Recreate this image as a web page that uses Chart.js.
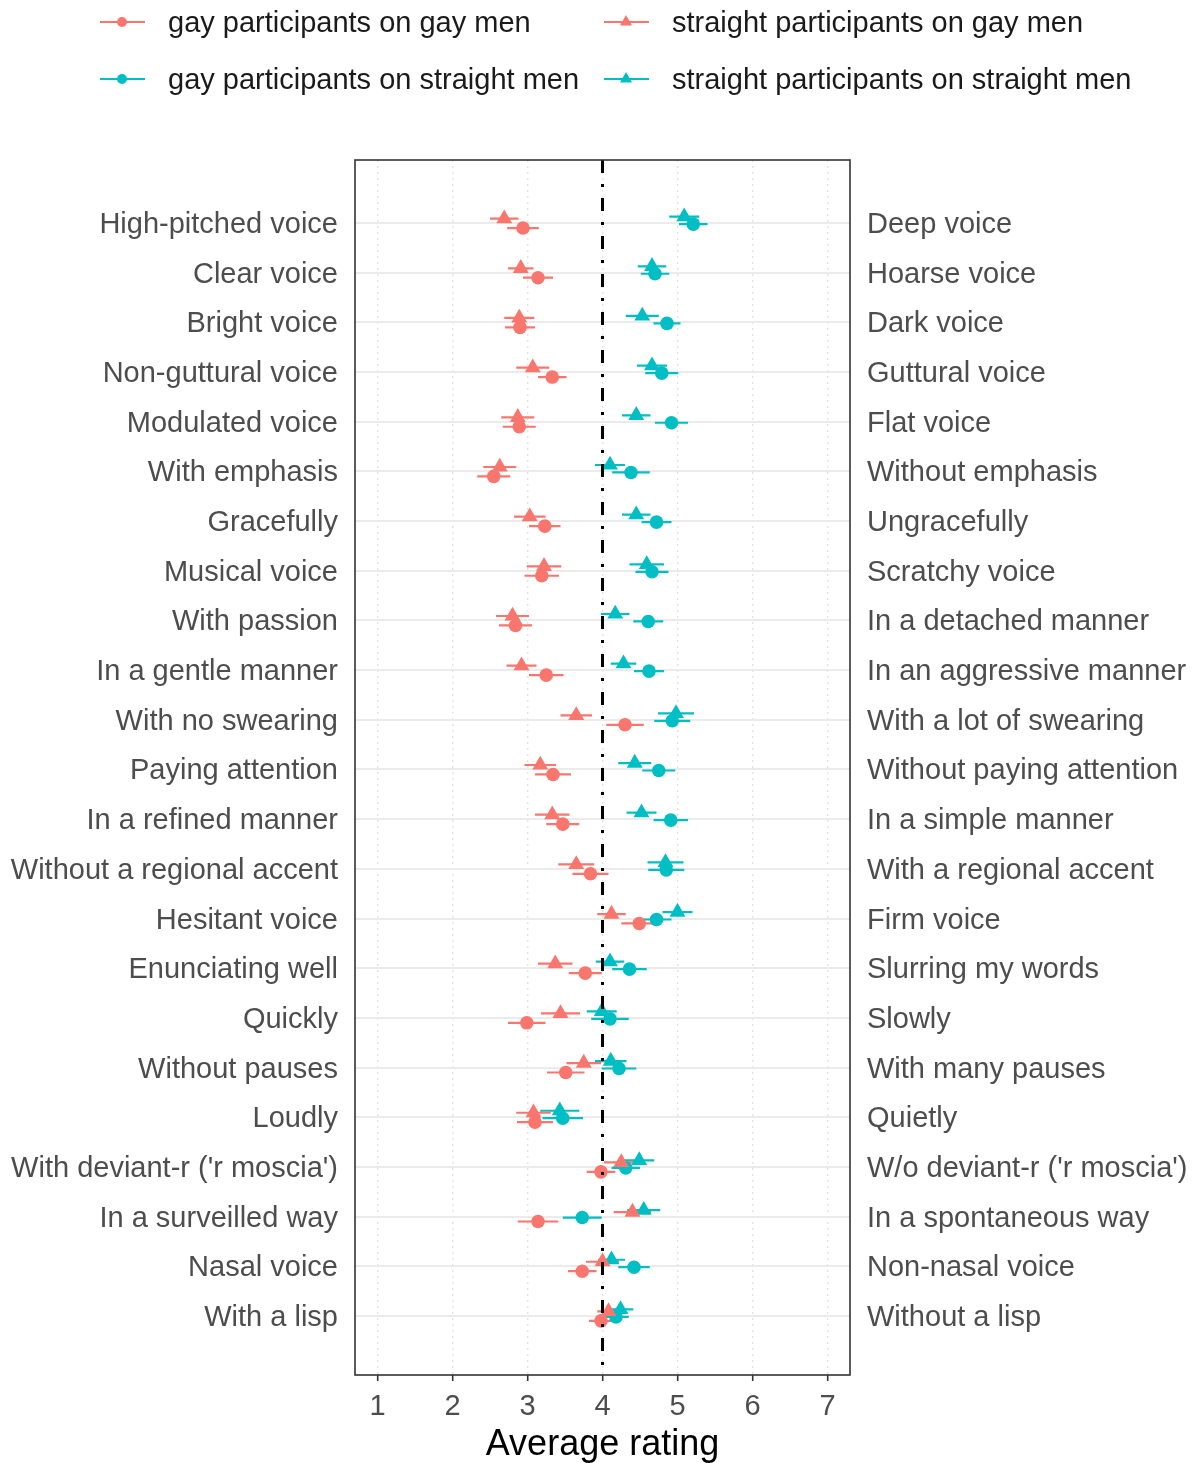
<!DOCTYPE html>
<html><head><meta charset="utf-8">
<script src="https://cdn.jsdelivr.net/npm/chart.js@4.4.1/dist/chart.umd.min.js"></script>
<style>html,body{margin:0;padding:0;background:#fff;} #wrap{width:1194px;height:1463px;}</style>
</head><body><div id="wrap"><canvas id="c" width="1194" height="1463"></canvas></div>
<script>
const leftLabels = ["High-pitched voice","Clear voice","Bright voice","Non-guttural voice","Modulated voice","With emphasis","Gracefully","Musical voice","With passion","In a gentle manner","With no swearing","Paying attention","In a refined manner","Without a regional accent","Hesitant voice","Enunciating well","Quickly","Without pauses","Loudly","With deviant-r ('r moscia')","In a surveilled way","Nasal voice","With a lisp"];
const rightLabels = ["Deep voice","Hoarse voice","Dark voice","Guttural voice","Flat voice","Without emphasis","Ungracefully","Scratchy voice","In a detached manner","In an aggressive manner","With a lot of swearing","Without paying attention","In a simple manner","With a regional accent","Firm voice","Slurring my words","Slowly","With many pauses","Quietly","W/o deviant-r ('r moscia')","In a spontaneous way","Non-nasal voice","Without a lisp"];
const xTicks = [1,2,3,4,5,6,7];
const referenceRating = 4;

const gayOnGay = [2.94,3.14,2.90,3.33,2.89,2.55,3.23,3.19,2.84,3.25,4.30,3.34,3.47,3.84,4.49,3.77,2.99,3.51,3.10,3.98,3.14,3.73,3.98];
const gayOnGayErr = [0.21,0.20,0.20,0.19,0.22,0.22,0.21,0.23,0.22,0.23,0.25,0.24,0.22,0.24,0.24,0.22,0.25,0.25,0.24,0.19,0.27,0.19,0.16];
const straightOnGay = [2.69,2.91,2.89,3.07,2.87,2.63,3.03,3.22,2.80,2.92,3.65,3.17,3.33,3.65,4.12,3.37,3.44,3.75,3.08,4.25,4.40,4.00,4.08];
const straightOnGayErr = [0.19,0.17,0.20,0.22,0.22,0.22,0.21,0.23,0.22,0.20,0.21,0.21,0.23,0.24,0.19,0.23,0.26,0.23,0.23,0.23,0.25,0.22,0.15];
const gayOnStraight = [5.21,4.70,4.86,4.79,4.92,4.38,4.72,4.66,4.61,4.62,4.93,4.75,4.91,4.85,4.72,4.36,4.10,4.22,3.47,4.31,3.73,4.42,4.18];
const gayOnStraightErr = [0.19,0.19,0.18,0.22,0.22,0.25,0.20,0.22,0.20,0.20,0.24,0.22,0.23,0.24,0.20,0.23,0.25,0.23,0.27,0.19,0.26,0.21,0.17];
const straightOnStraight = [5.09,4.66,4.53,4.66,4.45,4.10,4.45,4.59,4.17,4.28,4.98,4.43,4.52,4.84,5.00,4.10,3.99,4.11,3.43,4.49,4.55,4.12,4.24];
const straightOnStraightErr = [0.20,0.19,0.22,0.20,0.19,0.20,0.19,0.23,0.19,0.17,0.24,0.22,0.20,0.24,0.20,0.19,0.20,0.21,0.26,0.20,0.22,0.18,0.17];

const RED = '#F8766D', TEAL = '#00BFC4';
const series = [
  {label:'gay participants on gay men', values:gayOnGay, err:gayOnGayErr, color:RED, style:'circle', dodge:0.10},
  {label:'straight participants on gay men', values:straightOnGay, err:straightOnGayErr, color:RED, style:'triangle', dodge:-0.09},
  {label:'gay participants on straight men', values:gayOnStraight, err:gayOnStraightErr, color:TEAL, style:'circle', dodge:0.02},
  {label:'straight participants on straight men', values:straightOnStraight, err:straightOnStraightErr, color:TEAL, style:'triangle', dodge:-0.13}
];

const pointSets = series.map(s => ({
  type:'scatter', label:s.label,
  data: s.values.map((v,i)=>({x:v, y:i+s.dodge})),
  pointStyle:s.style, pointRadius: s.style==='circle'?6.8:9.2,
  backgroundColor:s.color, borderColor:s.color, borderWidth:0
}));
const errSets = series.map(s => {
  const d = [];
  s.values.forEach((v,i)=>{ d.push({x:v-s.err[i], y:i+s.dodge}); d.push({x:v+s.err[i], y:i+s.dodge}); d.push({x:null,y:null}); });
  return {type:'line', label:s.label+' CI', data:d, borderColor:s.color, borderWidth:2.2, pointRadius:0, spanGaps:false, fill:false};
});

const rowIdx = leftLabels.map((_,i)=>i);
const yCommon = {type:'linear', min:-1.27, max:23.19, reverse:true};
const FONT = '"Liberation Sans", Arial, sans-serif';

const overlay = {
  id:'overlay',
  afterDatasetsDraw(chart){
    const {ctx, chartArea:a, scales:{x}} = chart;
    const px = x.getPixelForValue(referenceRating);
    ctx.save();
    ctx.strokeStyle='#000'; ctx.lineWidth=3; ctx.setLineDash([13,11,3,11]);
    ctx.beginPath(); ctx.moveTo(px,a.top); ctx.lineTo(px,a.bottom); ctx.stroke();
    ctx.restore();
  },
  afterDraw(chart){
    const {ctx, chartArea:a} = chart;
    ctx.save();
    ctx.strokeStyle='#333'; ctx.lineWidth=1.6;
    ctx.strokeRect(a.left,a.top,a.right-a.left,a.bottom-a.top);
    const pos = [[100,24],[604,24],[100,81],[604,81]];
    ctx.font='29px ' + FONT;
    ctx.textBaseline='middle'; ctx.textAlign='left';
    series.forEach((s,k)=>{
      const [lx,ly]=pos[k];
      ctx.strokeStyle=s.color; ctx.lineWidth=2;
      ctx.beginPath(); ctx.moveTo(lx,ly-2); ctx.lineTo(lx+45,ly-2); ctx.stroke();
      ctx.fillStyle=s.color;
      Chart.helpers.drawPoint(ctx,{pointStyle:s.style, radius:s.style==='circle'?5:7, borderWidth:0, rotation:0}, lx+22, ly-2);
      ctx.fillStyle='#1a1a1a';
      ctx.fillText(s.label, lx+68, ly);
    });
    ctx.restore();
  }
};

new Chart(document.getElementById('c'), {
  data:{datasets:[...pointSets, ...errSets]},
  options:{
    responsive:false, animation:false, devicePixelRatio:1,
    layout:{padding:{top:160,left:0,right:0,bottom:0}},
    plugins:{legend:{display:false}, tooltip:{enabled:false}},
    events:[],
    scales:{
      x:{type:'linear', position:'bottom', min:0.7, max:7.3,
        afterFit(s){ s.height=88; },
        afterBuildTicks(s){ s.ticks = xTicks.map(v=>({value:v})); },
        grid:{color:'#e3e3e3', lineWidth:1.4, drawTicks:true, tickLength:6, tickColor:'#333', tickWidth:1.6},
        border:{display:false, dash:[2,4]},
        ticks:{color:'#4d4d4d', font:{size:29, family:FONT}, padding:9, maxRotation:0},
        title:{display:true, text:'Average rating', color:'#000', font:{size:36, family:FONT}, padding:{top:0,bottom:-4}}
      },
      y:{...yCommon, position:'left',
        afterFit(s){ s.width=355; },
        afterBuildTicks(s){ s.ticks = rowIdx.map(v=>({value:v})); },
        grid:{color:'#ebebeb', lineWidth:2, drawTicks:false},
        border:{display:false},
        ticks:{color:'#4d4d4d', padding:17, labelOffset:2, font:{size:29, family:FONT}, callback:(v)=>leftLabels[v]}
      },
      y2:{...yCommon, position:'right',
        afterFit(s){ s.width=344; },
        afterBuildTicks(s){ s.ticks = rowIdx.map(v=>({value:v})); },
        grid:{drawOnChartArea:false, drawTicks:false},
        border:{display:false},
        ticks:{color:'#4d4d4d', padding:17, labelOffset:2, font:{size:29, family:FONT}, callback:(v)=>rightLabels[v]}
      }
    }
  },
  plugins:[overlay]
});
</script></body></html>
